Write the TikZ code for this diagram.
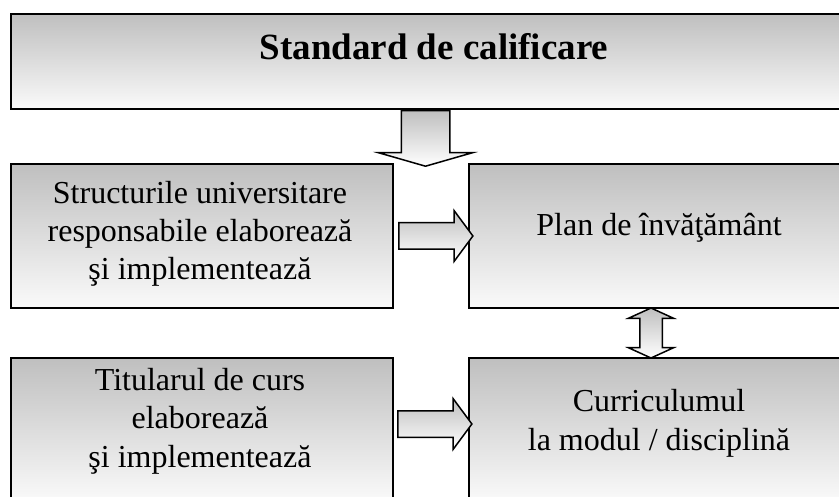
\documentclass[tikz,border=0pt]{standalone}
\usepackage{fontspec}
\setmainfont{Liberation Serif}
\usetikzlibrary{shapes.arrows, positioning, calc}
\definecolor{ShadeTop}{HTML}{BFBFBF}
\definecolor{ShadeBottom}{HTML}{FAFAFA}
\tikzset{
  % Box styles
  greybox/.style={rectangle, draw=black, line width=2pt, top color=ShadeTop, bottom color=ShadeBottom, anchor=north west, inner sep=0pt},
  boxtext/.style={font=\fontsize{32}{38.5}\selectfont, align=center, anchor=base, inner sep=0pt},
  titletext/.style={font=\fontsize{37}{44}\selectfont\bfseries, anchor=base, inner sep=0pt},
  % Arrow styles
  blockarrow/.style={single arrow, draw=black, line width=1.5pt, top color=ShadeTop, bottom color=white, single arrow head indent=0pt},
  pairarrow/.style={double arrow, draw=black, line width=1.5pt, top color=ShadeTop, bottom color=white, double arrow head indent=0pt}
}
\begin{document}
\begin{tikzpicture}[x=1pt, y=-1pt]
  \useasboundingbox (0,0) rectangle (839,497);
  \clip (0,0) rectangle (839,497);

  % Boxes
  \node[greybox, minimum width=848, minimum height=95] (standard) at (10,13) {};
  \node[greybox, minimum width=382, minimum height=144] (struct) at (10,163) {};
  \node[greybox, minimum width=400, minimum height=144] (plan) at (468,163) {};
  \node[greybox, minimum width=382, minimum height=144] (titular) at (10,357) {};
  \node[greybox, minimum width=400, minimum height=144] (curric) at (468,357) {};

  % Texts (base = last line)
  \node[titletext] (standardtext) at (434,60) {Standard de calificare};
  \node[boxtext] (structtext) at (200,280) {Structurile universitare\\responsabile elaborează\\şi implementează};
  \node[boxtext] (plantext) at (659,236) {Plan de învăţământ};
  \node[boxtext] (titulartext) at (200,467) {Titularul de curs\\elaborează\\şi implementează};
  \node[boxtext] (currictext) at (659,450) {Curriculumul\\la modul / disciplină};

  % Arrows
  \node[blockarrow, shape border rotate=270, inner sep=23.5pt, minimum height=52, single arrow head extend=23, single arrow tip angle=148] (down) at (425.5,135) {};
  \node[blockarrow, inner xsep=0pt, inner ysep=12.5pt, minimum height=74, single arrow head extend=12, single arrow tip angle=107] (toplan) at ($(struct.east)!0.5!(plan.west)$) {};
  \node[blockarrow, inner xsep=0pt, inner ysep=12.5pt, minimum height=74, single arrow head extend=12, single arrow tip angle=107] (tocurric) at (430,424) {};
  \node[pairarrow, shape border rotate=90, inner sep=10.5pt, minimum height=50, double arrow head extend=11.5, double arrow tip angle=131] (planlink) at ($(plan.south west)!0.5!(curric.north west) + (183,0)$) {};
\end{tikzpicture}
\end{document}
